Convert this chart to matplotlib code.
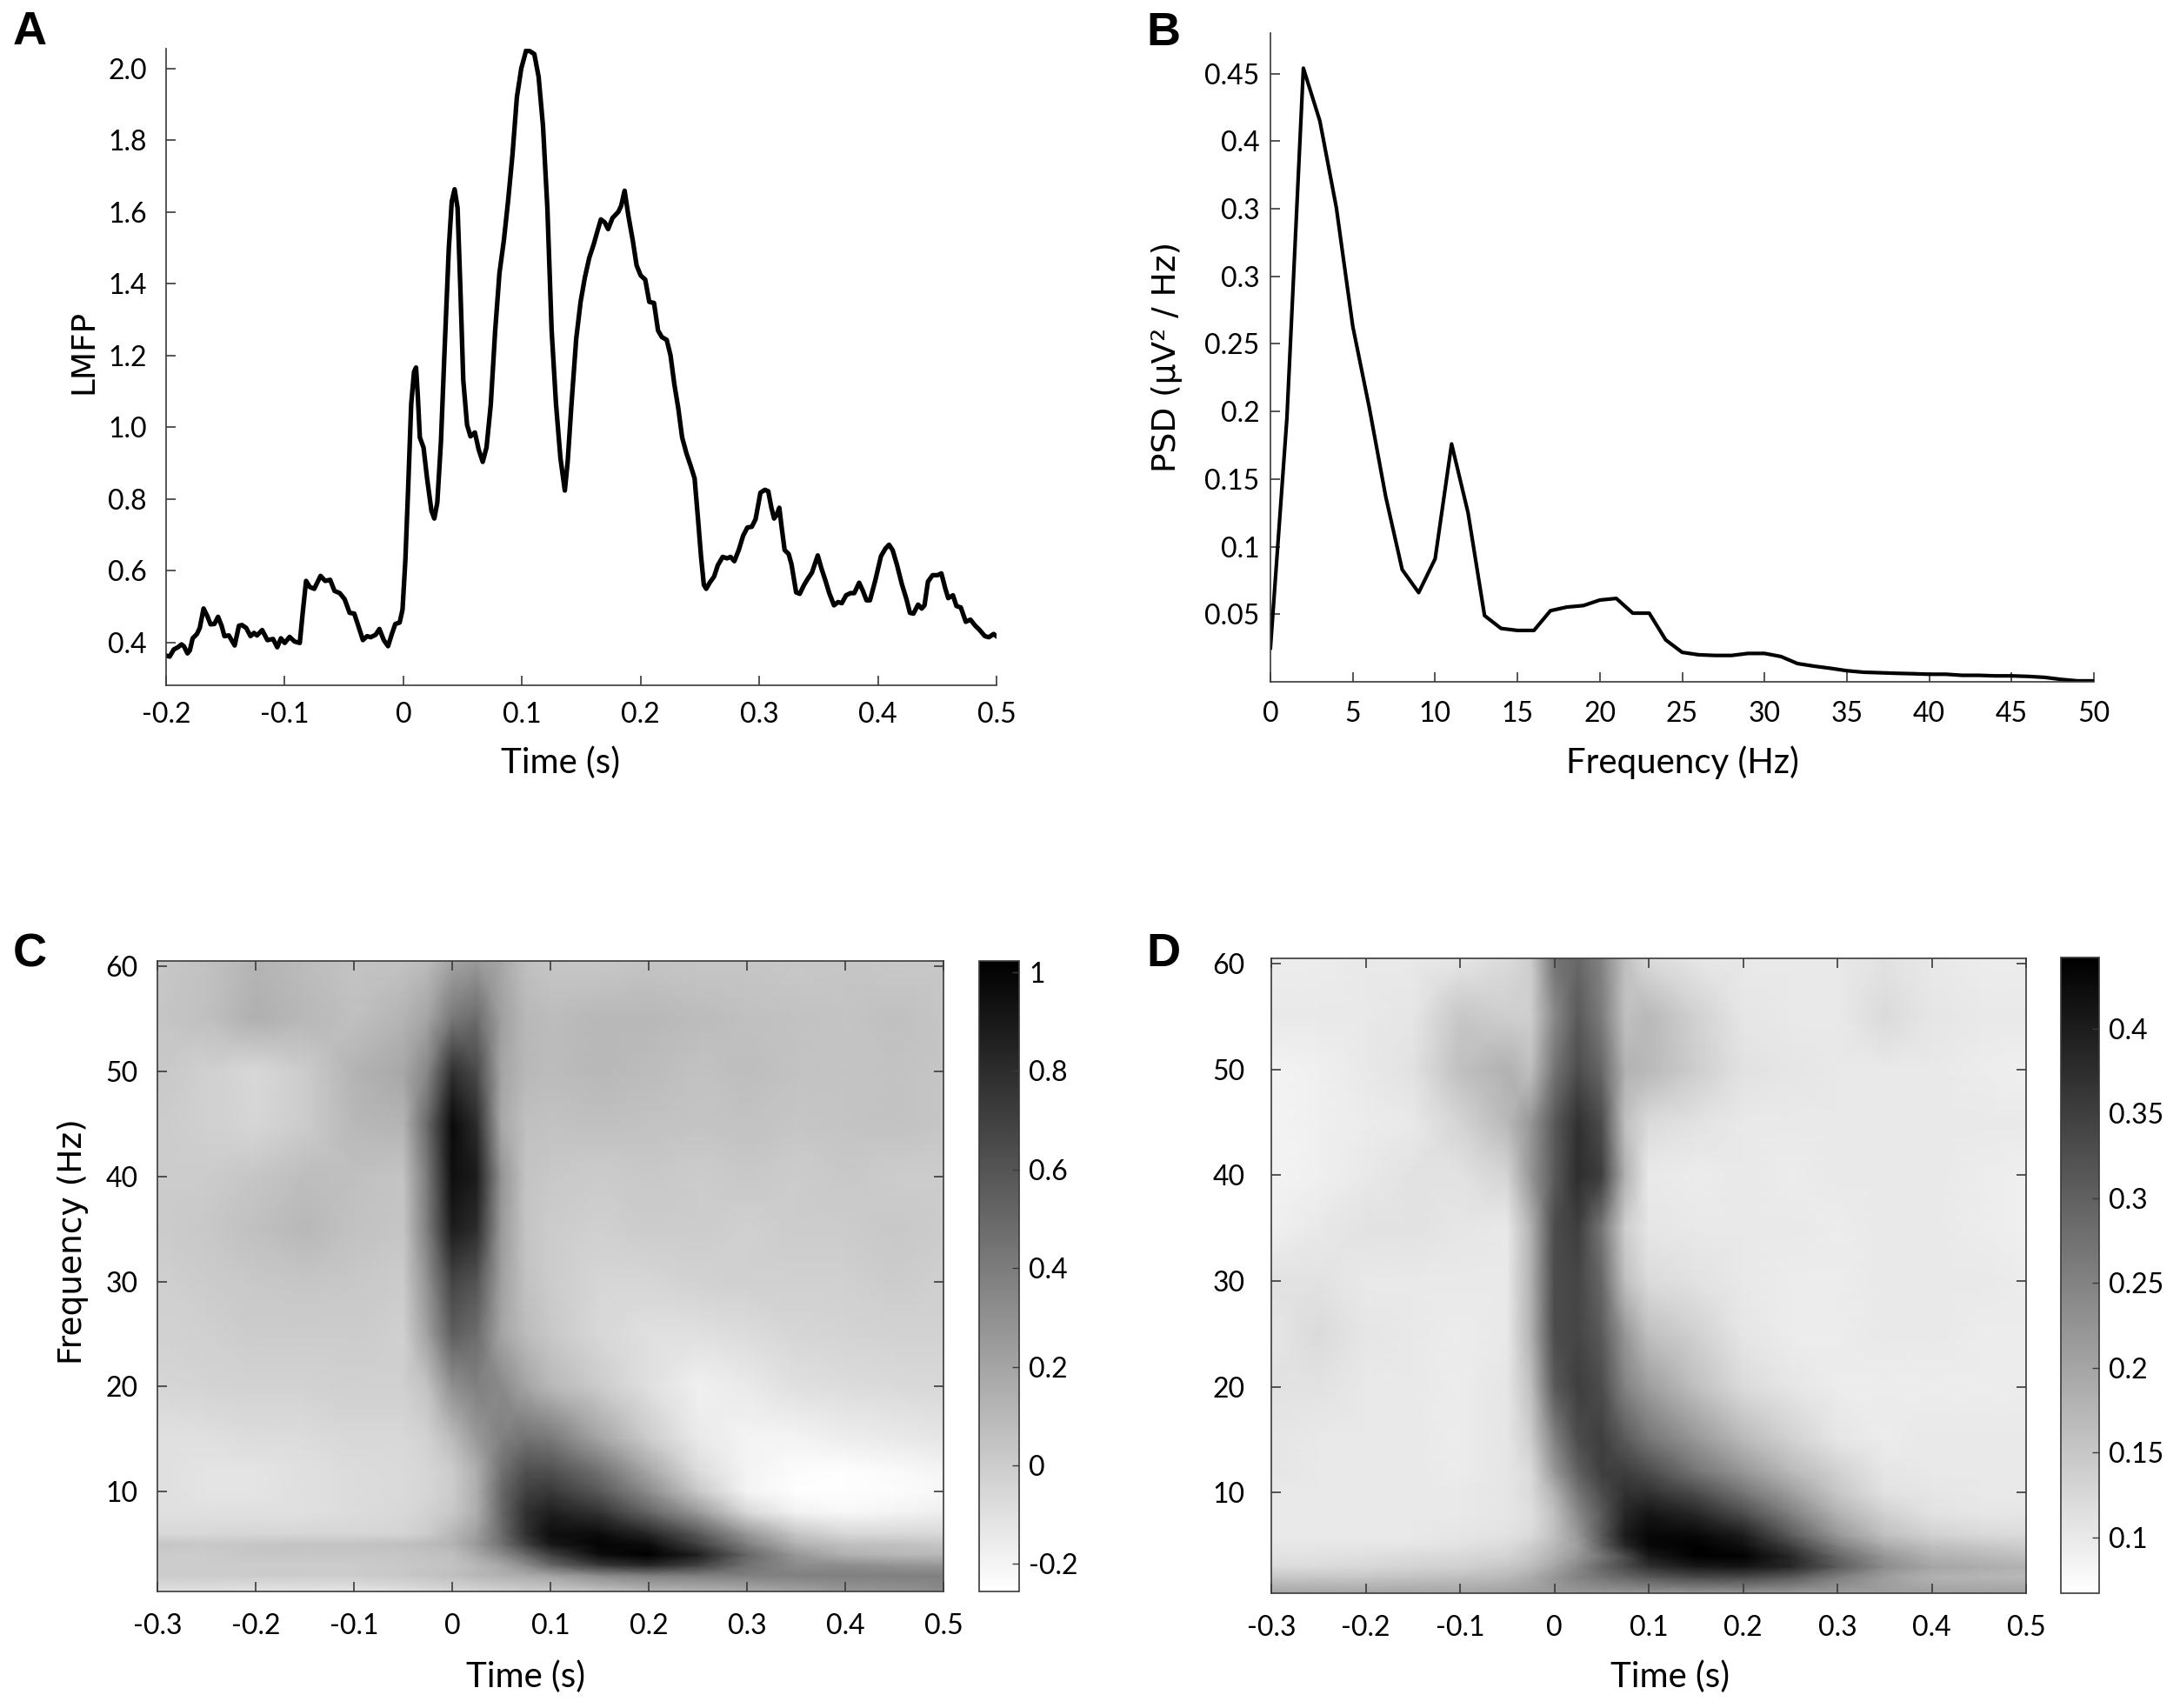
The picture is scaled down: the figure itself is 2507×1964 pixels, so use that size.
import numpy as np
import matplotlib
matplotlib.use("Agg")
import matplotlib.pyplot as plt
from matplotlib import font_manager

# ---------------- data ----------------
# A: LMFP time course
lmfp_time = [
    -0.2, -0.197, -0.1935, -0.19, -0.187, -0.185, -0.182, -0.18, -0.1776, -0.174,
    -0.1716, -0.1684, -0.1654, -0.1625, -0.1593, -0.1562, -0.1532, -0.1508, -0.1471, -0.1422,
    -0.1386, -0.136, -0.1325, -0.1288, -0.1259, -0.1234, -0.119, -0.1146, -0.1098, -0.1063,
    -0.1032, -0.1, -0.0959, -0.0917, -0.0873, -0.0849, -0.082, -0.0788, -0.0751, -0.0698,
    -0.0659, -0.0617, -0.058, -0.0536, -0.0495, -0.0453, -0.0414, -0.038, -0.0341, -0.0306,
    -0.0275, -0.0233, -0.0202, -0.0165, -0.0129, -0.0097, -0.0068, -0.0031, -0.0007, 0.0017,
    0.0041, 0.0066, 0.009, 0.0107, 0.0122, 0.0139, 0.017, 0.02, 0.0237, 0.0261,
    0.0286, 0.0317, 0.0347, 0.0383, 0.0408, 0.0432, 0.0457, 0.0481, 0.0505, 0.0537,
    0.0566, 0.0603, 0.0635, 0.0669, 0.0701, 0.0737, 0.0774, 0.081, 0.0847, 0.0884,
    0.092, 0.0957, 0.0994, 0.1035, 0.1067, 0.1104, 0.114, 0.1177, 0.1214, 0.125,
    0.1287, 0.1324, 0.1361, 0.1385, 0.1417, 0.1457, 0.1494, 0.153, 0.1567, 0.1604,
    0.1633, 0.1665, 0.1697, 0.1726, 0.1763, 0.1812, 0.1836, 0.1865, 0.1897, 0.1934,
    0.1966, 0.2, 0.2039, 0.2073, 0.2113, 0.2147, 0.2179, 0.222, 0.2252, 0.2284,
    0.2318, 0.235, 0.2387, 0.2423, 0.2455, 0.2484, 0.2509, 0.2533, 0.2553, 0.2582,
    0.2619, 0.2651, 0.2692, 0.2729, 0.2758, 0.279, 0.2827, 0.2864, 0.29, 0.2937,
    0.2969, 0.301, 0.3047, 0.3076, 0.3101, 0.3125, 0.3145, 0.3169, 0.3189, 0.3214,
    0.3248, 0.3272, 0.3311, 0.3341, 0.3378, 0.3409, 0.3444, 0.3493, 0.3524, 0.3556,
    0.359, 0.363, 0.3664, 0.3696, 0.3732, 0.3769, 0.3801, 0.3842, 0.3874, 0.3904,
    0.3933, 0.3977, 0.4026, 0.4063, 0.4094, 0.4124, 0.416, 0.4202, 0.4241, 0.427,
    0.43, 0.4339, 0.4369, 0.4393, 0.4422, 0.4461, 0.4503, 0.4535, 0.4569, 0.4593,
    0.4633, 0.4662, 0.4699, 0.4741, 0.478, 0.4821, 0.4858, 0.4902, 0.4936, 0.4975,
    0.5,
]
lmfp_value = [
    0.363, 0.36, 0.38, 0.386, 0.394, 0.389, 0.369, 0.377, 0.411, 0.423,
    0.44, 0.494, 0.474, 0.45, 0.451, 0.471, 0.446, 0.417, 0.419, 0.391,
    0.446, 0.448, 0.44, 0.417, 0.426, 0.419, 0.434, 0.406, 0.409, 0.386,
    0.411, 0.398, 0.415, 0.402, 0.398, 0.48, 0.571, 0.554, 0.549, 0.585,
    0.571, 0.574, 0.543, 0.537, 0.52, 0.482, 0.48, 0.446, 0.406, 0.417,
    0.414, 0.421, 0.437, 0.406, 0.389, 0.423, 0.451, 0.455, 0.491, 0.629,
    0.834, 1.063, 1.154, 1.166, 1.086, 0.971, 0.943, 0.857, 0.766, 0.745,
    0.789, 0.96, 1.211, 1.497, 1.629, 1.663, 1.611, 1.383, 1.131, 1.006,
    0.974, 0.985, 0.937, 0.903, 0.943, 1.063, 1.269, 1.429, 1.52, 1.634,
    1.76, 1.92, 2.0, 2.05, 2.048, 2.04, 1.977, 1.84, 1.611, 1.269,
    1.063, 0.914, 0.823, 0.903, 1.063, 1.246, 1.349, 1.417, 1.472, 1.509,
    1.543, 1.579, 1.571, 1.552, 1.583, 1.6, 1.617, 1.659, 1.589, 1.52,
    1.451, 1.423, 1.411, 1.349, 1.346, 1.269, 1.251, 1.243, 1.2, 1.12,
    1.051, 0.971, 0.926, 0.891, 0.857, 0.743, 0.64, 0.56, 0.549, 0.566,
    0.583, 0.615, 0.638, 0.634, 0.638, 0.626, 0.657, 0.697, 0.72, 0.722,
    0.743, 0.817, 0.825, 0.821, 0.777, 0.745, 0.754, 0.775, 0.72, 0.657,
    0.646, 0.617, 0.539, 0.535, 0.56, 0.577, 0.594, 0.642, 0.606, 0.574,
    0.537, 0.503, 0.512, 0.509, 0.531, 0.537, 0.537, 0.566, 0.543, 0.517,
    0.517, 0.571, 0.64, 0.661, 0.672, 0.657, 0.617, 0.562, 0.52, 0.482,
    0.48, 0.505, 0.494, 0.503, 0.569, 0.587, 0.587, 0.592, 0.549, 0.523,
    0.531, 0.501, 0.497, 0.457, 0.463, 0.446, 0.434, 0.417, 0.414, 0.423,
    0.417,
]

# B: power spectral density
psd_freq = list(range(0, 51))
psd_value = [
    0.025, 0.195, 0.454, 0.415, 0.351, 0.263, 0.203, 0.137, 0.083, 0.066,
    0.091, 0.176, 0.125, 0.049, 0.0395, 0.038, 0.038, 0.0526, 0.0553, 0.0564,
    0.0605, 0.0617, 0.0508, 0.0508, 0.031, 0.0218, 0.02, 0.0195, 0.0195, 0.021,
    0.021, 0.0187, 0.0135, 0.0116, 0.010, 0.0082, 0.0071, 0.0067, 0.0063, 0.006,
    0.0056, 0.0056, 0.0048, 0.0048, 0.0044, 0.0044, 0.004, 0.0033, 0.0018, 0.0007,
    0.0007,
]
psd_ticks = [0.05, 0.1, 0.15, 0.2, 0.25, 0.3, 0.35, 0.4, 0.45]
psd_ticklabels = ['0.05', '0.1', '0.15', '0.2', '0.25', '0.3', '0.3', '0.4', '0.45']

# C / D: time-frequency maps (rows = tf_freq, columns = tf_time)
tf_time = [-0.3, -0.25, -0.2, -0.15, -0.1, -0.05, -0.025, 0, 0.025, 0.05,
           0.075, 0.1, 0.15, 0.2, 0.25, 0.3, 0.35, 0.4, 0.45, 0.5]
tf_freq = [1, 2, 3, 4, 5, 6, 8, 10, 12, 15, 20, 25, 30, 35, 40, 45, 50, 55, 60]

tf_c = [
    [-0.1, -0.1, -0.12, -0.12, -0.13, -0.1, -0.08, -0.06, -0.05, -0.03, -0.01, 0.0, 0.04, 0.1, 0.12, 0.15, 0.2, 0.26, 0.28, 0.32],
    [0.0, 0.0, 0.0, 0.0, 0.0, 0.02, 0.04, 0.06, 0.1, 0.13, 0.16, 0.2, 0.32, 0.38, 0.38, 0.38, 0.38, 0.38, 0.38, 0.38],
    [0.0, 0.0, 0.0, 0.0, 0.0, 0.02, 0.03, 0.05, 0.1, 0.18, 0.32, 0.5, 0.74, 0.83, 0.7, 0.45, 0.32, 0.32, 0.28, 0.26],
    [0.0, 0.0, 0.03, 0.03, 0.03, 0.03, 0.05, 0.06, 0.18, 0.32, 0.5, 0.7, 0.96, 1.02, 0.87, 0.51, 0.26, 0.13, 0.1, 0.1],
    [0.03, 0.02, 0.03, 0.04, 0.04, 0.06, 0.08, 0.12, 0.25, 0.45, 0.7, 0.9, 1.0, 0.96, 0.7, 0.38, 0.13, 0.06, 0.06, 0.03],
    [-0.06, -0.06, -0.05, -0.05, -0.05, -0.04, 0.0, 0.1, 0.22, 0.48, 0.78, 0.95, 0.96, 0.83, 0.58, 0.26, 0.03, -0.06, -0.06, -0.06],
    [-0.1, -0.1, -0.1, -0.1, -0.08, -0.06, -0.03, 0.02, 0.15, 0.5, 0.78, 0.87, 0.77, 0.52, 0.26, -0.06, -0.19, -0.22, -0.2, -0.17],
    [-0.1, -0.12, -0.12, -0.1, -0.08, -0.07, -0.05, 0.0, 0.15, 0.5, 0.7, 0.74, 0.58, 0.32, 0.02, -0.2, -0.25, -0.25, -0.24, -0.22],
    [-0.1, -0.12, -0.12, -0.1, -0.08, -0.07, -0.05, 0.0, 0.15, 0.45, 0.62, 0.62, 0.45, 0.18, -0.08, -0.2, -0.24, -0.25, -0.23, -0.2],
    [-0.1, -0.1, -0.08, -0.08, -0.06, -0.06, -0.03, 0.08, 0.25, 0.38, 0.45, 0.42, 0.2, 0.0, -0.15, -0.2, -0.2, -0.17, -0.15, -0.13],
    [-0.05, -0.04, -0.03, -0.03, -0.02, -0.02, 0.05, 0.3, 0.38, 0.33, 0.2, 0.1, 0.0, -0.1, -0.18, -0.15, -0.1, -0.08, -0.07, -0.06],
    [-0.03, -0.02, 0.0, 0.0, 0.0, -0.02, 0.22, 0.55, 0.48, 0.2, 0.08, 0.02, -0.06, -0.1, -0.1, -0.08, -0.05, -0.04, -0.03, -0.03],
    [-0.02, 0.0, 0.02, 0.03, 0.02, 0.0, 0.3, 0.68, 0.6, 0.22, 0.05, 0.0, -0.05, -0.05, -0.03, -0.02, -0.02, -0.02, 0.0, -0.02],
    [0.0, 0.02, 0.06, 0.1, 0.05, 0.03, 0.4, 0.88, 0.8, 0.25, 0.04, 0.0, -0.02, 0.0, 0.0, -0.02, 0.0, 0.0, 0.02, 0.0],
    [0.0, 0.0, 0.03, 0.07, 0.06, 0.04, 0.42, 0.95, 0.88, 0.28, 0.04, 0.02, 0.0, 0.02, 0.0, 0.02, 0.0, 0.02, 0.0, 0.0],
    [0.0, -0.02, -0.05, 0.0, 0.1, 0.12, 0.5, 0.97, 0.8, 0.18, 0.06, 0.05, 0.06, 0.05, 0.04, 0.05, 0.03, 0.04, 0.05, 0.03],
    [0.02, -0.02, -0.06, 0.0, 0.12, 0.18, 0.35, 0.78, 0.65, 0.2, 0.1, 0.08, 0.1, 0.08, 0.05, 0.07, 0.05, 0.04, 0.05, 0.03],
    [0.03, 0.06, 0.14, 0.1, 0.06, 0.12, 0.2, 0.42, 0.48, 0.22, 0.1, 0.08, 0.1, 0.1, 0.08, 0.06, 0.05, 0.04, 0.06, 0.03],
    [0.02, 0.05, 0.12, 0.08, 0.04, 0.05, 0.08, 0.2, 0.25, 0.18, 0.06, 0.03, 0.02, 0.04, 0.03, 0.03, 0.02, 0.03, 0.02, 0.02],
]

tf_d = [
    [0.2, 0.2, 0.2, 0.2, 0.2, 0.205, 0.21, 0.215, 0.22, 0.22, 0.22, 0.22, 0.22, 0.22, 0.215, 0.21, 0.21, 0.205, 0.205, 0.205],
    [0.15, 0.15, 0.15, 0.155, 0.16, 0.17, 0.19, 0.22, 0.25, 0.27, 0.29, 0.31, 0.335, 0.335, 0.31, 0.255, 0.21, 0.18, 0.175, 0.17],
    [0.12, 0.12, 0.125, 0.13, 0.135, 0.15, 0.165, 0.2, 0.24, 0.29, 0.33, 0.37, 0.405, 0.41, 0.385, 0.31, 0.235, 0.2, 0.19, 0.18],
    [0.11, 0.11, 0.115, 0.12, 0.125, 0.13, 0.15, 0.18, 0.22, 0.27, 0.33, 0.405, 0.44, 0.44, 0.385, 0.29, 0.22, 0.18, 0.17, 0.16],
    [0.105, 0.105, 0.105, 0.105, 0.11, 0.12, 0.14, 0.17, 0.21, 0.3, 0.385, 0.43, 0.44, 0.42, 0.35, 0.255, 0.19, 0.16, 0.15, 0.14],
    [0.1, 0.1, 0.1, 0.1, 0.105, 0.11, 0.12, 0.16, 0.22, 0.31, 0.4, 0.43, 0.43, 0.4, 0.31, 0.22, 0.16, 0.135, 0.125, 0.12],
    [0.1, 0.1, 0.1, 0.1, 0.1, 0.105, 0.115, 0.16, 0.24, 0.31, 0.385, 0.41, 0.385, 0.33, 0.255, 0.18, 0.135, 0.11, 0.105, 0.105],
    [0.1, 0.1, 0.1, 0.1, 0.1, 0.105, 0.12, 0.18, 0.27, 0.33, 0.37, 0.37, 0.33, 0.27, 0.21, 0.15, 0.11, 0.105, 0.1, 0.1],
    [0.105, 0.1, 0.1, 0.1, 0.095, 0.105, 0.12, 0.22, 0.3, 0.35, 0.35, 0.33, 0.27, 0.22, 0.17, 0.135, 0.105, 0.1, 0.1, 0.1],
    [0.105, 0.1, 0.1, 0.1, 0.095, 0.105, 0.14, 0.25, 0.33, 0.35, 0.31, 0.27, 0.22, 0.17, 0.135, 0.105, 0.095, 0.1, 0.1, 0.1],
    [0.11, 0.11, 0.1, 0.1, 0.095, 0.105, 0.16, 0.31, 0.35, 0.33, 0.25, 0.21, 0.16, 0.12, 0.105, 0.095, 0.095, 0.095, 0.095, 0.095],
    [0.105, 0.12, 0.105, 0.1, 0.095, 0.1, 0.18, 0.33, 0.34, 0.31, 0.22, 0.16, 0.135, 0.105, 0.095, 0.095, 0.1, 0.1, 0.095, 0.095],
    [0.11, 0.11, 0.1, 0.1, 0.1, 0.1, 0.18, 0.33, 0.34, 0.29, 0.16, 0.12, 0.11, 0.1, 0.095, 0.095, 0.1, 0.1, 0.1, 0.095],
    [0.09, 0.1, 0.11, 0.11, 0.105, 0.1, 0.18, 0.33, 0.35, 0.27, 0.14, 0.105, 0.1, 0.1, 0.1, 0.095, 0.1, 0.1, 0.095, 0.09],
    [0.085, 0.09, 0.1, 0.11, 0.11, 0.13, 0.22, 0.31, 0.375, 0.35, 0.18, 0.1, 0.095, 0.1, 0.095, 0.1, 0.1, 0.1, 0.095, 0.09],
    [0.085, 0.09, 0.095, 0.1, 0.13, 0.17, 0.22, 0.31, 0.37, 0.33, 0.16, 0.12, 0.11, 0.1, 0.1, 0.1, 0.1, 0.1, 0.1, 0.1],
    [0.085, 0.09, 0.1, 0.11, 0.16, 0.18, 0.16, 0.27, 0.33, 0.29, 0.18, 0.17, 0.14, 0.11, 0.105, 0.1, 0.1, 0.1, 0.095, 0.09],
    [0.1, 0.1, 0.1, 0.105, 0.15, 0.14, 0.14, 0.24, 0.31, 0.26, 0.16, 0.17, 0.135, 0.105, 0.1, 0.1, 0.12, 0.105, 0.1, 0.1],
    [0.095, 0.095, 0.1, 0.1, 0.105, 0.12, 0.14, 0.27, 0.29, 0.25, 0.16, 0.12, 0.105, 0.1, 0.1, 0.1, 0.11, 0.1, 0.095, 0.095],
]

c_clim = (-0.256, 1.023)
d_clim = (0.067, 0.442)
c_cticks = [-0.2, 0, 0.2, 0.4, 0.6, 0.8, 1]
c_cticklabels = ['-0.2', '0', '0.2', '0.4', '0.6', '0.8', '1']
d_cticks = [0.1, 0.15, 0.2, 0.25, 0.3, 0.35, 0.4]
d_cticklabels = ['0.1', '0.15', '0.2', '0.25', '0.3', '0.35', '0.4']

time_ticks = [-0.3, -0.2, -0.1, 0, 0.1, 0.2, 0.3, 0.4, 0.5]
time_ticklabels = ['-0.3', '-0.2', '-0.1', '0', '0.1', '0.2', '0.3', '0.4', '0.5']

# ---------------- style ----------------
installed = {f.name for f in font_manager.fontManager.ttflist}
tick_font = 'Lato' if 'Lato' in installed else 'DejaVu Sans'
label_font = 'DejaVu Sans'
letter_font = 'Liberation Sans' if 'Liberation Sans' in installed else 'DejaVu Sans'

TICK_FS = 23
XLAB_FS = 29
YLAB_FS = 27
AX_COL = '#3a3a3a'

W, H = 2507, 1964
fig = plt.figure(figsize=(W / 100, H / 100), dpi=100)


def rect(l, t, r, b):
    return [l / W, 1 - b / H, (r - l) / W, (b - t) / H]


def style_ticks(ax, box=False, xpad=14, ypad=12):
    ax.tick_params(direction='in', length=8, width=1.2, color=AX_COL,
                   labelsize=TICK_FS, top=box, right=box)
    ax.tick_params(axis='x', pad=xpad)
    ax.tick_params(axis='y', pad=ypad)
    for lab in ax.get_xticklabels() + ax.get_yticklabels():
        lab.set_fontfamily(tick_font)
    for s in ax.spines.values():
        s.set_color(AX_COL)
        s.set_linewidth(1.2)


# ---------------- A ----------------
axA = fig.add_axes(rect(191, 56, 1146, 788))
axA.plot(lmfp_time, lmfp_value, color='black', lw=3.8, solid_joinstyle='round')
axA.set_xlim(-0.2, 0.5)
axA.set_ylim(0.28, 2.055)
axA.set_xticks([-0.2, -0.1, 0, 0.1, 0.2, 0.3, 0.4, 0.5])
axA.set_xticklabels(['-0.2', '-0.1', '0', '0.1', '0.2', '0.3', '0.4', '0.5'])
axA.set_yticks(np.arange(0.4, 2.01, 0.2))
axA.set_yticklabels(['%.1f' % v for v in np.arange(0.4, 2.01, 0.2)])
axA.spines['top'].set_visible(False)
axA.spines['right'].set_visible(False)
style_ticks(axA, xpad=14, ypad=16)

# ---------------- B ----------------
axB = fig.add_axes(rect(1461, 38, 2408, 784))
axB.plot(psd_freq, psd_value, color='black', lw=3.0)
axB.set_xlim(0, 50)
axB.set_ylim(0, 0.48)
axB.set_xticks(range(0, 51, 5))
axB.set_yticks(psd_ticks)
axB.set_yticklabels(psd_ticklabels)
axB.spines['top'].set_visible(False)
axB.spines['right'].set_visible(False)
style_ticks(axB, xpad=16, ypad=9)


# ---------------- C / D ----------------
def tf_panel(axrect, caxrect, data, clim, cticks, cticklabels, ypad):
    ax = fig.add_axes(axrect)
    y_nodes = np.array(tf_freq, dtype=float)
    y_nodes[0], y_nodes[-1] = 0.5, 60.5
    mesh = ax.pcolormesh(tf_time, y_nodes, np.array(data), cmap='gray_r',
                         vmin=clim[0], vmax=clim[1], shading='gouraud')
    ax.set_xlim(-0.3, 0.5)
    ax.set_ylim(0.5, 60.5)
    ax.set_xticks(time_ticks)
    ax.set_xticklabels(time_ticklabels)
    ax.set_yticks([10, 20, 30, 40, 50, 60])
    style_ticks(ax, box=True, xpad=18, ypad=ypad)
    cax = fig.add_axes(caxrect)
    cb = fig.colorbar(mesh, cax=cax)
    cb.set_ticks(cticks)
    cb.set_ticklabels(cticklabels)
    cb.outline.set_edgecolor(AX_COL)
    cb.outline.set_linewidth(1.2)
    cax.tick_params(direction='in', length=6, width=1.0, color=AX_COL,
                    labelsize=TICK_FS, pad=8)
    for lab in cax.get_yticklabels():
        lab.set_fontfamily(tick_font)
    return ax


axC = tf_panel(rect(181, 1105, 1085, 1830), rect(1126, 1105, 1172, 1830),
               tf_c, c_clim, c_cticks, c_cticklabels, ypad=16)
axD = tf_panel(rect(1462, 1102, 2330, 1832), rect(2370, 1101, 2414, 1832),
               tf_d, d_clim, d_cticks, d_cticklabels, ypad=22)

# ---------------- labels ----------------
def fig_text(x, y, s, **kw):
    fig.text(x / W, 1 - y / H, s, ha='center', va='center', **kw)


fig_text(644, 877, 'Time (s)', fontsize=XLAB_FS, family=tick_font)
fig_text(1935, 877, 'Frequency (Hz)', fontsize=XLAB_FS, family=tick_font)
fig_text(605, 1928, 'Time (s)', fontsize=XLAB_FS, family=tick_font)
fig_text(1920, 1928, 'Time (s)', fontsize=XLAB_FS, family=tick_font)

fig_text(96, 404, 'LMFP', fontsize=YLAB_FS, family=label_font, rotation=90)
fig_text(1342, 410, 'PSD (μV² / Hz)', fontsize=YLAB_FS, family=label_font, rotation=90)
fig_text(84, 1428, 'Frequency (Hz)', fontsize=YLAB_FS, family=label_font, rotation=90)

for letter, (x, y) in zip('ABCD', [(34, 37), (1338, 38), (34, 1097), (1338, 1097)]):
    fig_text(x, y, letter, fontsize=39, family=letter_font, fontweight='bold')

fig.savefig('out.png', dpi=100, facecolor='white')
